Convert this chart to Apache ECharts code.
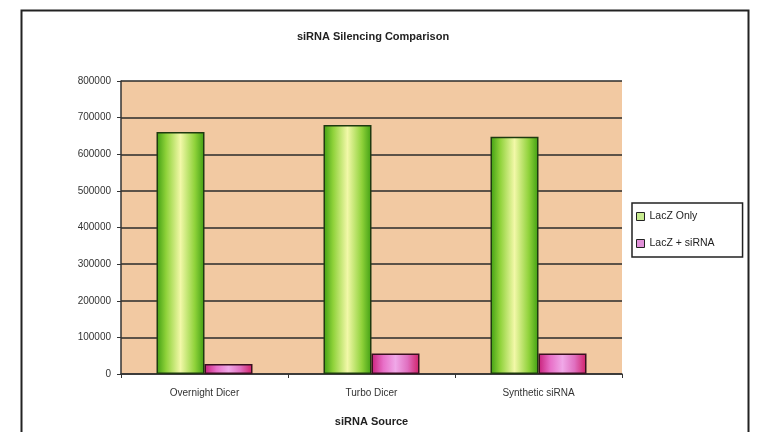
<!DOCTYPE html>
<html>
<head>
<meta charset="utf-8">
<script src="https://cdn.jsdelivr.net/npm/echarts@6/dist/echarts.min.js"></script>
<style>
  html, body { margin: 0; padding: 0; background: #fff; }
  #chart { width: 768px; height: 432px; }
</style>
</head>
<body>
<div id="chart"></div>
<script>
const categories = ['Overnight Dicer', 'Turbo Dicer', 'Synthetic siRNA']
const lacZOnly = [661000, 680000, 648000]
const lacZSirna = [27000, 56000, 56000]
const seriesNames = ['LacZ Only', 'LacZ + siRNA']

const chart = echarts.init(document.getElementById('chart'))

// bar fills, light in the middle like the old Excel cylinders
const greenFill = {
  type: 'linear', x: 0, y: 0, x2: 1, y2: 0,
  colorStops: [
    { offset: 0, color: '#3f9e12' },
    { offset: 0.2, color: '#8fd23a' },
    { offset: 0.5, color: '#f2f8a8' },
    { offset: 0.8, color: '#8fd23a' },
    { offset: 1, color: '#3f9e12' },
  ],
}
const pinkFill = {
  type: 'linear', x: 0, y: 0, x2: 1, y2: 0,
  colorStops: [
    { offset: 0, color: '#c8207a' },
    { offset: 0.25, color: '#e870c8' },
    { offset: 0.5, color: '#f0a8e8' },
    { offset: 0.75, color: '#e070c0' },
    { offset: 1, color: '#d02068' },
  ],
}

chart.setOption({
  backgroundColor: '#fff',
  animation: false,
  title: {
    text: 'siRNA Silencing Comparison',
    left: 368, top: 26, textAlign: 'center',
    textStyle: { fontFamily: 'Liberation Sans', fontSize: 11, fontWeight: 'bold', color: '#222' },
  },
  legend: {
    orient: 'vertical',
    left: 632, top: 203,
    padding: [8, 28, 8, 4],
    itemGap: 16,
    itemWidth: 8, itemHeight: 8,
    borderColor: '#222', borderWidth: 1.5,
    icon: 'rect',
    data: [
      { name: seriesNames[0], itemStyle: { color: '#c8ec90', borderColor: '#222', borderWidth: 1 } },
      { name: seriesNames[1], itemStyle: { color: '#e090d8', borderColor: '#222', borderWidth: 1 } },
    ],
    textStyle: { fontFamily: 'Liberation Sans', fontSize: 10.5, color: '#222' },
  },
  graphic: [{
    type: 'rect', left: 19, top: 8, silent: true,
    shape: { width: 727, height: 440 },
    style: { fill: 'none', stroke: '#222', lineWidth: 2 },
  }],
  grid: { left: 121, right: 146, top: 81, bottom: 56, backgroundColor: '#f2c9a2', show: true, borderWidth: 0 },
  xAxis: {
    type: 'category',
    data: categories,
    name: 'siRNA Source',
    nameLocation: 'middle',
    nameGap: 42,
    nameTextStyle: { fontFamily: 'Liberation Sans', fontSize: 11, fontWeight: 'bold', color: '#222' },
    axisLine: { lineStyle: { color: '#333', width: 1.5 } },
    axisTick: { show: true, length: 4, lineStyle: { color: '#333' } },
    axisLabel: { fontFamily: 'Liberation Sans', fontSize: 10, color: '#333', margin: 14 },
  },
  yAxis: {
    type: 'value',
    min: 0, max: 800000, interval: 100000,
    axisLine: { show: true, lineStyle: { color: '#333', width: 1.5 } },
    axisTick: { show: true, length: 4, lineStyle: { color: '#333' } },
    axisLabel: { fontFamily: 'Liberation Sans', fontSize: 10, color: '#333', margin: 10, formatter: v => String(v) },
    splitLine: { lineStyle: { color: '#2a2a2a', width: 1.5 } },
  },
  series: [
    {
      name: seriesNames[0], type: 'bar', data: lacZOnly,
      barWidth: 48, barGap: '0%',
      itemStyle: { color: greenFill, borderColor: '#1e3a10', borderWidth: 1.5 },
    },
    {
      name: seriesNames[1], type: 'bar', data: lacZSirna,
      barWidth: 48,
      itemStyle: { color: pinkFill, borderColor: '#3a1020', borderWidth: 1.5 },
    },
  ],
})
</script>
</body>
</html>
